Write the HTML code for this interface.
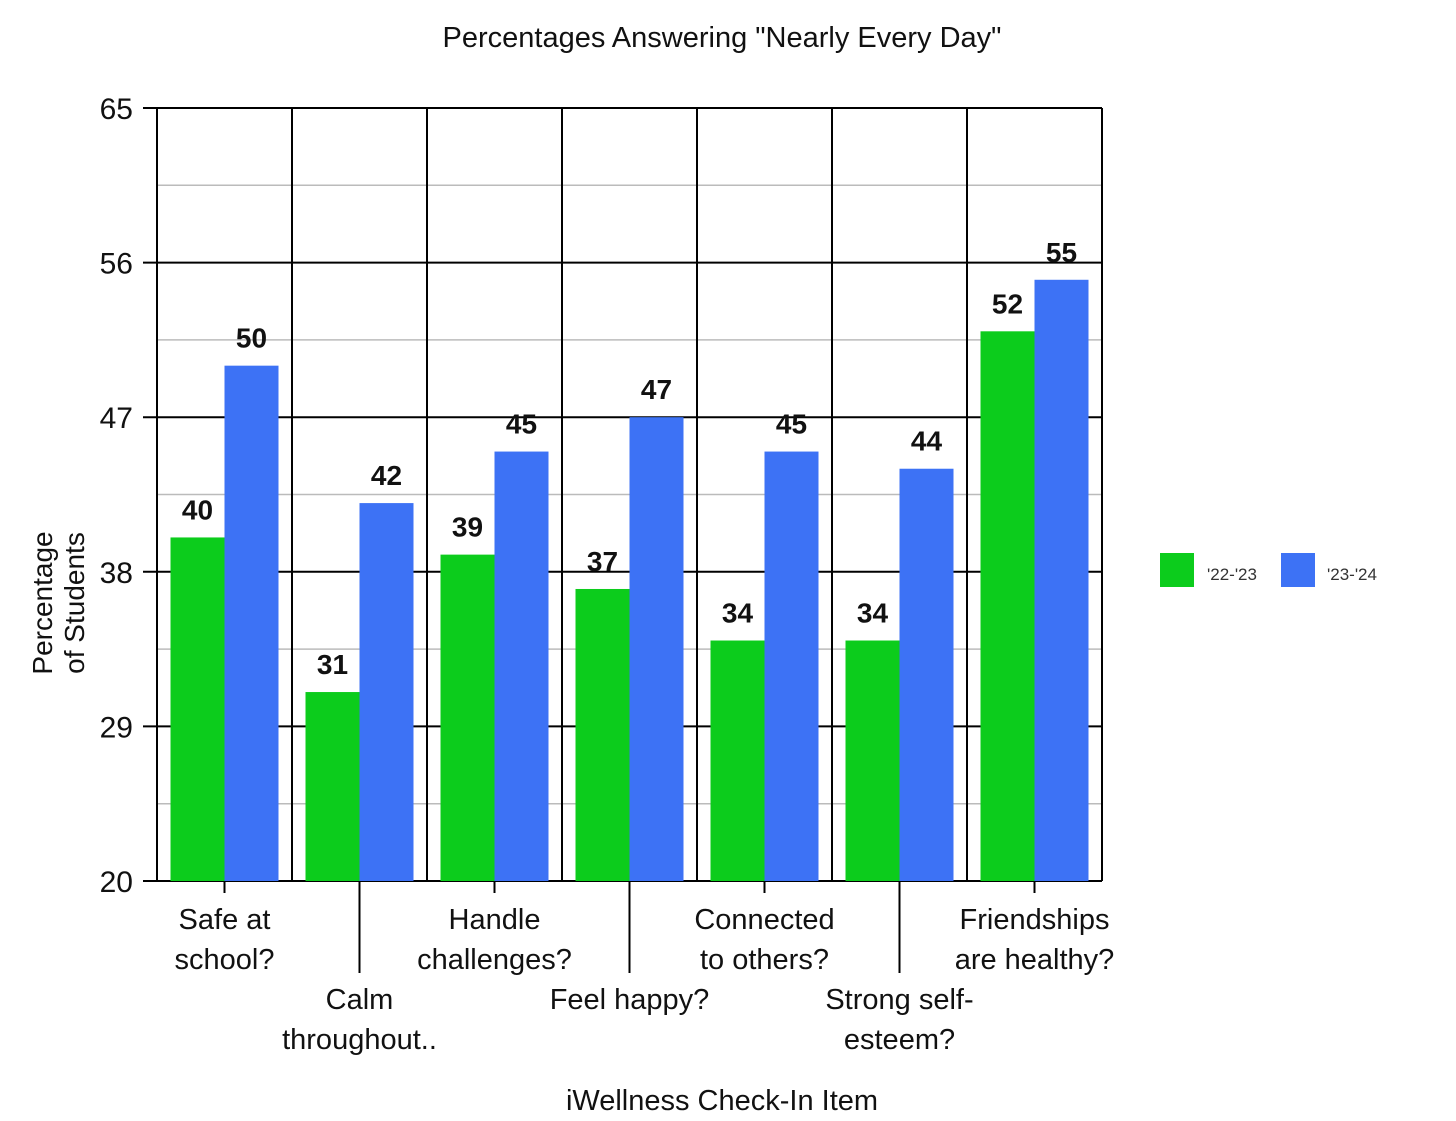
<!DOCTYPE html>
<html><head><meta charset="utf-8"><style>
body{margin:0;background:#fff;}
svg{display:block;font-family:"Liberation Sans",Arial,sans-serif;}
</style></head><body>
<svg id="chart" width="1456" height="1121" xmlns="http://www.w3.org/2000/svg">
<text x="722" y="47" text-anchor="middle" font-size="29" fill="#111">Percentages Answering "Nearly Every Day"</text>
<text transform="translate(60,603) rotate(-90)" text-anchor="middle" font-size="28" fill="#111"><tspan x="0" dy="-8">Percentage</tspan><tspan x="0" dy="32">of Students</tspan></text>
<text x="722" y="1110" text-anchor="middle" font-size="29" fill="#111">iWellness Check-In Item</text>
<g id="grid"></g><g id="bars"></g><g id="axes"></g>
<g>
<rect x="1160" y="553" width="34" height="34" fill="#0ccc1c"/>
<text x="1207" y="580" font-size="17" fill="#333">'22-'23</text>
<rect x="1281" y="553" width="34" height="34" fill="#3d72f5"/>
<text x="1327" y="580" font-size="17" fill="#333">'23-'24</text>
</g>
</svg>
<script>
const categories=[["Safe at","school?"],["Calm","throughout.."],["Handle","challenges?"],["Feel happy?"],["Connected","to others?"],["Strong self-","esteem?"],["Friendships","are healthy?"]];
const series2223=[40,31,39,37,34,34,52];
const series2324=[50,42,45,47,45,44,55];
const yTicks=[20,29,38,47,56,65];
const yMin=20,yMax=65;
const L=157,R=1102,T=108,B=881;
const NS="http://www.w3.org/2000/svg";
const cw=(R-L)/categories.length;
function y(v){return B-(v-yMin)/(yMax-yMin)*(B-T);}
function xc(i){return L+cw*(i+0.5);}
function mk(p,tag,a){const e=document.createElementNS(NS,tag);for(const k in a)e.setAttribute(k,a[k]);p.appendChild(e);return e;}
const grid=document.getElementById('grid'),bars=document.getElementById('bars'),axes=document.getElementById('axes');
for(let i=0;i<yTicks.length-1;i++){const m=(yTicks[i]+yTicks[i+1])/2;
const g=mk(grid,'line',{x1:L,x2:R,y1:y(m),y2:y(m),stroke:'#bbb','stroke-width':1.5});

}
yTicks.forEach(t=>{const g=mk(grid,'line',{x1:L-14,x2:R,y1:y(t),y2:y(t),stroke:'#000','stroke-width':2});


const tx=mk(axes,'text',{x:L-24,y:y(t)+11,'text-anchor':'end','font-size':30,fill:'#111'});tx.textContent=t;

});
for(let i=0;i<=categories.length;i++){const v=mk(grid,'line',{x1:L+cw*i,x2:L+cw*i,y1:T,y2:B,stroke:'#000','stroke-width':2});

}
const bw=54;
categories.forEach((c,i)=>{
 const cx=xc(i);
 [[series2223[i],'#0ccc1c',cx-bw,'green'],[series2324[i],'#3d72f5',cx,'blue']].forEach(([v,col,x0,n])=>{
  const r=mk(bars,'rect',{x:x0,y:y(v),width:bw,height:B-y(v),fill:col});
  
  
  const t=mk(bars,'text',{x:x0+bw/2,y:y(v)-18,'text-anchor':'middle','font-size':28,'font-weight':'bold',fill:'#111'});t.textContent=v;
  
  
 });
 const odd=i%2===1;
 const tk=mk(axes,'line',{x1:cx,x2:cx,y1:B,y2:odd?B+92:B+12,stroke:'#000','stroke-width':2});
 
 
 const base=odd?B+128:B+48;
 const t=mk(axes,'text',{'text-anchor':'middle','font-size':29,fill:'#111'});
 
 
 c.forEach((line,j)=>{const s=mk(t,'tspan',{x:cx,y:base+j*40});s.textContent=line;});
});
</script>
</body></html>
